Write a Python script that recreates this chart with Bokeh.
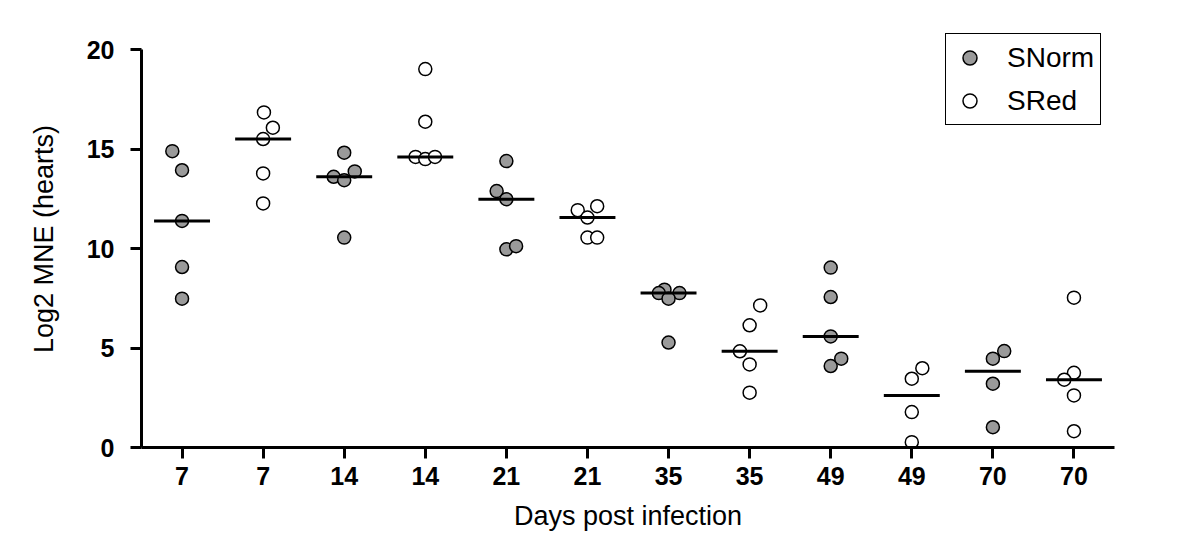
import numpy as np
from bokeh.plotting import figure
from bokeh.models import FixedTicker, Range1d
from bokeh.embed import file_html
from bokeh.resources import INLINE

# ---- data ----
day_labels = ["7", "7", "14", "14", "21", "21", "35", "35", "49", "49", "70", "70"]
group_series = ["SNorm", "SRed"] * 6

d7_snorm = [14.91, 13.95, 11.40, 9.08, 7.49]
d7_sred = [16.86, 16.09, 15.52, 13.79, 12.28]
d14_snorm = [14.83, 13.62, 13.89, 13.45, 10.56]
d14_sred = [19.04, 16.39, 14.62, 14.51, 14.62]
d21_snorm = [14.41, 12.90, 12.49, 9.97, 10.13]
d21_sred = [11.94, 12.14, 11.57, 10.56, 10.56]
d35_snorm = [7.94, 7.77, 7.77, 7.49, 5.28]
d35_sred = [7.15, 6.15, 4.84, 4.18, 2.76]
d49_snorm = [9.05, 7.57, 5.59, 4.10, 4.47]
d49_sred = [3.99, 3.46, 1.78, 0.27]
d70_snorm = [4.85, 4.47, 3.21, 1.02]
d70_sred = [7.54, 3.76, 3.41, 2.62, 0.82]

# horizontal scatter offsets (in category units) of each point
d7_snorm_dx = [-0.12, 0, 0, 0, 0]
d7_sred_dx = [0.01, 0.12, 0, 0, 0]
d14_snorm_dx = [0, -0.13, 0.13, 0, 0]
d14_sred_dx = [0, 0, -0.12, 0, 0.12]
d21_snorm_dx = [0, -0.12, 0, 0, 0.12]
d21_sred_dx = [-0.12, 0.12, 0, 0, 0.12]
d35_snorm_dx = [-0.05, -0.12, 0.135, 0, 0]
d35_sred_dx = [0.13, 0, -0.12, 0, 0]
d49_snorm_dx = [0, 0, 0, 0, 0.13]
d49_sred_dx = [0.13, 0, 0, 0]
d70_snorm_dx = [0.14, 0, 0, 0]
d70_sred_dx = [0, 0, -0.12, 0, 0]

groups = [d7_snorm, d7_sred, d14_snorm, d14_sred, d21_snorm, d21_sred,
          d35_snorm, d35_sred, d49_snorm, d49_sred, d70_snorm, d70_sred]
offsets = [d7_snorm_dx, d7_sred_dx, d14_snorm_dx, d14_sred_dx, d21_snorm_dx, d21_sred_dx,
           d35_snorm_dx, d35_sred_dx, d49_snorm_dx, d49_sred_dx, d70_snorm_dx, d70_sred_dx]

# ---- build sources ----
pts = {"SNorm": {"x": [], "y": []}, "SRed": {"x": [], "y": []}}
med_x0, med_x1, med_y = [], [], []
half = 0.345
for i, (vals, dxs, ser) in enumerate(zip(groups, offsets, group_series)):
    for v, dx in zip(vals, dxs):
        pts[ser]["x"].append(i + dx)
        pts[ser]["y"].append(v)
    m = float(np.median(vals))
    med_x0.append(i - half)
    med_x1.append(i + half)
    med_y.append(m)

FONT = "Liberation Sans"

p = figure(width=1192, height=548, output_backend="svg", toolbar_location=None,
           x_range=Range1d(-0.5, 11.5), y_range=Range1d(0, 20.98),
           min_border_left=141, min_border_right=78, min_border_top=30,
           min_border_bottom=101)
p.outline_line_color = None
p.xgrid.visible = False
p.ygrid.visible = False
p.background_fill_color = "white"

p.scatter(pts["SNorm"]["x"], pts["SNorm"]["y"], size=13, fill_color="#9a9a9a",
          line_color="black", line_width=1.5, legend_label="SNorm")
p.scatter(pts["SRed"]["x"], pts["SRed"]["y"], size=13, fill_color="white",
          line_color="black", line_width=1.5, legend_label="SRed")
p.segment(x0=med_x0, x1=med_x1, y0=med_y, y1=med_y, line_color="black", line_width=3)

# axes
for ax in (p.xaxis[0], p.yaxis[0]):
    ax.axis_line_width = 3
    ax.major_tick_line_width = 3
    ax.major_tick_out = 11
    ax.major_tick_in = 0
    ax.minor_tick_line_color = None
    ax.major_label_text_font = FONT
    ax.major_label_text_font_style = "bold"
    ax.major_label_text_font_size = "25px"
    ax.major_label_text_color = "black"
    ax.axis_label_text_font = FONT
    ax.axis_label_text_font_style = "normal"
    ax.axis_label_text_font_size = "27px"
    ax.axis_label_text_color = "black"
    ax.axis_line_color = "black"
    ax.major_tick_line_color = "black"

p.xaxis.ticker = FixedTicker(ticks=list(range(len(day_labels))))
p.xaxis.major_label_overrides = {i: lab for i, lab in enumerate(day_labels)}
p.xaxis.axis_label = "Days post infection"
p.xaxis.major_label_standoff = 8
p.xaxis.axis_label_standoff = 13

p.yaxis.ticker = FixedTicker(ticks=[0, 5, 10, 15, 20])
p.yaxis.bounds = (0, 20)
p.yaxis.axis_label = "Log2 MNE (hearts)"
p.yaxis.major_label_standoff = 16
p.yaxis.axis_label_standoff = 25

leg = p.legend[0]
leg.location = (804, 322)
leg.margin = 0
leg.padding = 6
leg.spacing = 8
leg.label_height = 35
leg.glyph_height = 35
leg.glyph_width = 35
leg.label_standoff = 20
leg.border_line_color = "black"
leg.border_line_alpha = 1
leg.border_line_width = 1.5
leg.label_text_font = FONT
leg.label_text_font_size = "28px"
leg.label_text_color = "black"
leg.background_fill_alpha = 1

open("out.html", "w").write(file_html(p, INLINE))
